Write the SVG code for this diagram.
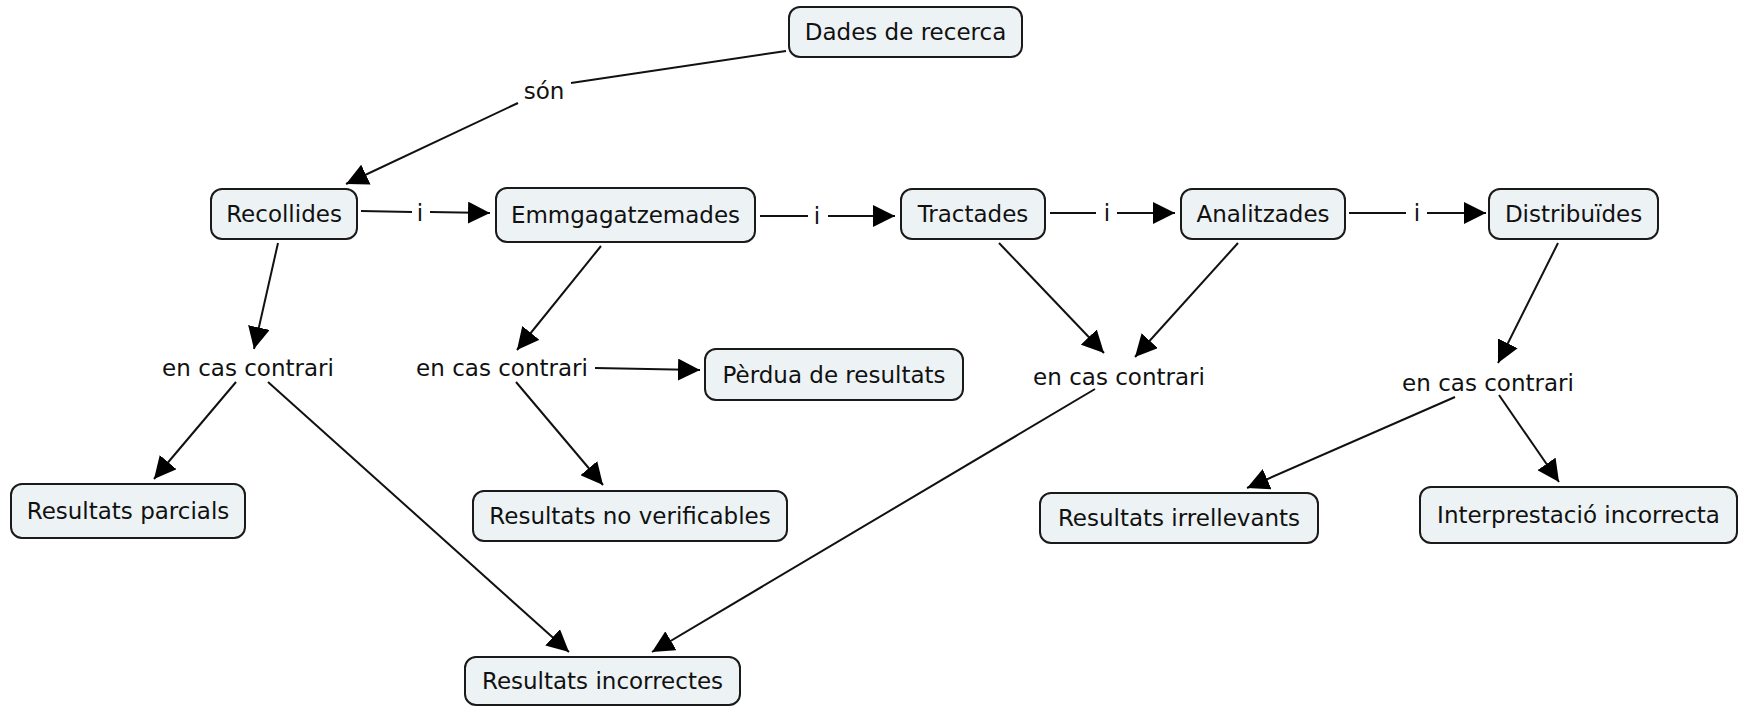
<svg xmlns="http://www.w3.org/2000/svg" width="1738" height="706" viewBox="0 0 1738 706">
<style>
.node rect{fill:#edf3f5;stroke:#1a1a1a;stroke-width:2}
text{font-family:"DejaVu Sans",Verdana,sans-serif;font-size:23px;fill:#111;text-anchor:middle}
.conn line{stroke:#111;stroke-width:2}
</style>
<defs>
<marker id="ah" markerUnits="userSpaceOnUse" markerWidth="22" markerHeight="22" refX="20" refY="10" orient="auto" viewBox="0 0 20 20">
<path d="M0,0 L20,10 L0,20 z" fill="#000"/>
</marker>
</defs>
<rect width="1738" height="706" fill="#fff"/>
<g id="connectors" class="conn">
<line x1="786" y1="51" x2="571" y2="83"/>
<line x1="518" y1="103" x2="346" y2="184" marker-end="url(#ah)"/>
<line x1="361" y1="211" x2="412" y2="212"/>
<line x1="430" y1="212" x2="490" y2="213" marker-end="url(#ah)"/>
<line x1="760" y1="216" x2="808" y2="216"/>
<line x1="828" y1="216" x2="895" y2="216" marker-end="url(#ah)"/>
<line x1="1050" y1="213" x2="1096" y2="213"/>
<line x1="1117" y1="213" x2="1175" y2="213" marker-end="url(#ah)"/>
<line x1="1349" y1="213" x2="1406" y2="213"/>
<line x1="1427" y1="213" x2="1486" y2="213" marker-end="url(#ah)"/>
<line x1="278" y1="243" x2="254" y2="349" marker-end="url(#ah)"/>
<line x1="601" y1="246" x2="517" y2="350" marker-end="url(#ah)"/>
<line x1="595" y1="368" x2="700" y2="370" marker-end="url(#ah)"/>
<line x1="236" y1="382" x2="154" y2="479" marker-end="url(#ah)"/>
<line x1="268" y1="382" x2="569" y2="652" marker-end="url(#ah)"/>
<line x1="516" y1="382" x2="603" y2="485" marker-end="url(#ah)"/>
<line x1="999" y1="243" x2="1104" y2="353" marker-end="url(#ah)"/>
<line x1="1238" y1="243" x2="1135" y2="357" marker-end="url(#ah)"/>
<line x1="1095" y1="389" x2="652" y2="652" marker-end="url(#ah)"/>
<line x1="1558" y1="243" x2="1498" y2="363" marker-end="url(#ah)"/>
<line x1="1455" y1="397" x2="1247" y2="488" marker-end="url(#ah)"/>
<line x1="1499" y1="395" x2="1559" y2="482" marker-end="url(#ah)"/>
</g>
<g id="labels">
<text x="544" y="99">són</text>
<text x="420" y="221">i</text>
<text x="817" y="224">i</text>
<text x="1107" y="221">i</text>
<text x="1417" y="221">i</text>
<text x="248" y="376">en cas contrari</text>
<text x="502" y="376">en cas contrari</text>
<text x="1119" y="385">en cas contrari</text>
<text x="1488" y="391">en cas contrari</text>
</g>
<g id="n-dades" class="node"><rect x="789" y="7" width="233" height="50" rx="11"/><text x="905.5" y="40">Dades de recerca</text></g>
<g id="n-recollides" class="node"><rect x="211" y="189" width="146" height="50" rx="11"/><text x="284" y="222">Recollides</text></g>
<g id="n-emmg" class="node"><rect x="496" y="188" width="259" height="54" rx="11"/><text x="625.5" y="223">Emmgagatzemades</text></g>
<g id="n-tractades" class="node"><rect x="901" y="189" width="144" height="50" rx="11"/><text x="973" y="222">Tractades</text></g>
<g id="n-analitzades" class="node"><rect x="1181" y="189" width="164" height="50" rx="11"/><text x="1263" y="222">Analitzades</text></g>
<g id="n-distribuides" class="node"><rect x="1489" y="189" width="169" height="50" rx="11"/><text x="1573.5" y="222">Distribuïdes</text></g>
<g id="n-perdua" class="node"><rect x="705" y="349" width="258" height="51" rx="11"/><text x="834" y="383">Pèrdua de resultats</text></g>
<g id="n-parcials" class="node"><rect x="11" y="484" width="234" height="54" rx="11"/><text x="128" y="519">Resultats parcials</text></g>
<g id="n-noverif" class="node"><rect x="473" y="491" width="314" height="50" rx="11"/><text x="630" y="524">Resultats no verificables</text></g>
<g id="n-incorrectes" class="node"><rect x="465" y="657" width="275" height="48" rx="11"/><text x="602.5" y="689">Resultats incorrectes</text></g>
<g id="n-irrellevants" class="node"><rect x="1040" y="493" width="278" height="50" rx="11"/><text x="1179" y="526">Resultats irrellevants</text></g>
<g id="n-interp" class="node"><rect x="1420" y="487" width="317" height="56" rx="11"/><text x="1578.5" y="523">Interprestació incorrecta</text></g>
</svg>
